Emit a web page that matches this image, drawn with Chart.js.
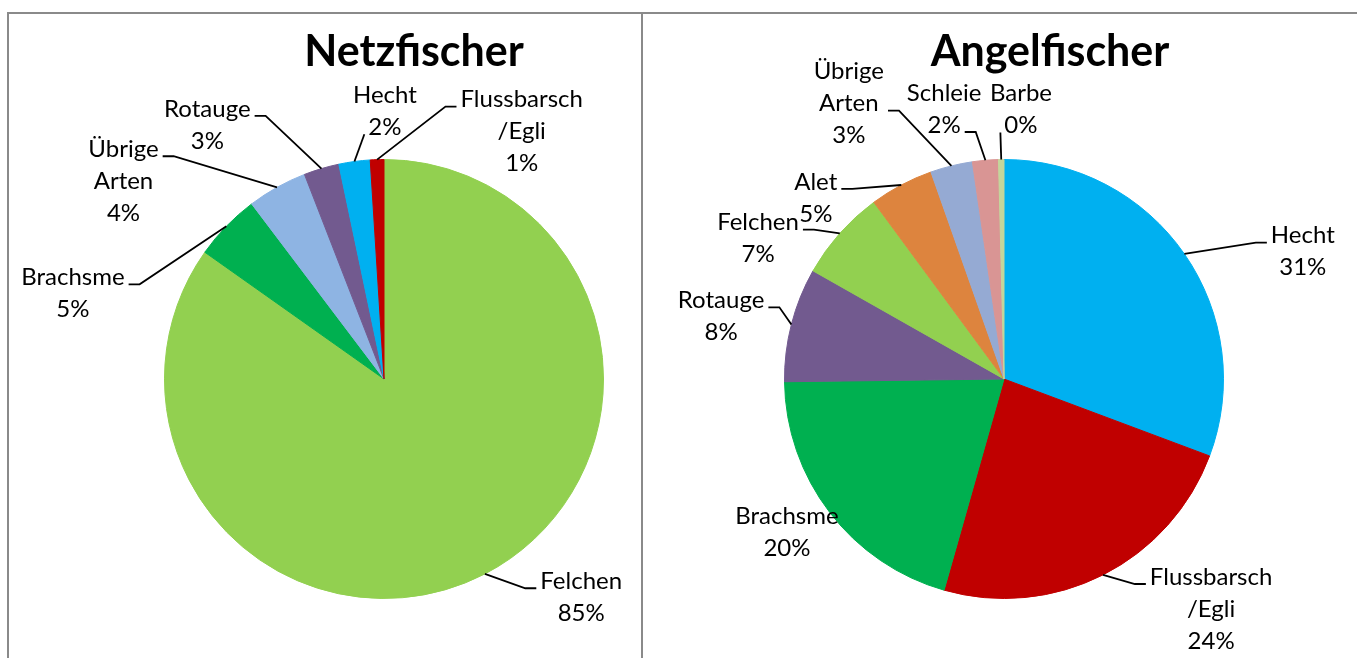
<!DOCTYPE html>
<html>
<head>
<meta charset="utf-8">
<script src="https://cdn.jsdelivr.net/npm/chart.js@4"></script>
<style>
body { margin: 0; background: #fff; overflow: hidden; }
.box { position: absolute; top: 12px; height: 700px; border: 2px solid #8a8a8a; }
#boxNetz { left: 7px; width: 632px; }
#boxAngel { left: 641px; width: 760px; }
canvas { position: absolute; left: 0; top: 0; }
</style>
</head>
<body>
<div class="box" id="boxNetz"><canvas id="netz" width="632" height="644"></canvas></div>
<div class="box" id="boxAngel"><canvas id="angel" width="714" height="644"></canvas></div>
<script>
// Netzfischer (share of catch, %)
const netzCategories = ['Felchen', 'Brachsme', ['Übrige', 'Arten'], 'Rotauge', 'Hecht', ['Flussbarsch', '/Egli']];
const netzValues = [84.8, 4.9, 4.4, 2.6, 2.3, 1.0];

// Angelfischer (share of catch, %)
const angelCategories = ['Hecht', ['Flussbarsch', '/Egli'], 'Brachsme', 'Rotauge', 'Felchen', 'Alet', ['Übrige', 'Arten'], 'Schleie', 'Barbe'];
const angelValues = [30.7, 23.7, 20.4, 8.4, 6.7, 4.7, 3.1, 1.9, 0.4];

// slice colours
const netzColors = ['#92D050', '#00B050', '#8EB4E3', '#725A8F', '#00B0F0', '#C00000'];
const angelColors = ['#00B0F0', '#C00000', '#00B050', '#725A8F', '#92D050', '#DD843E', '#95AAD3', '#D99594', '#C3D69B'];

// label placement: [angle in degrees clockwise from 12 o'clock, distance in pie radii, (leader row)]
const netzLabelPlacement = [[137.9, 1.34], [285.4, 1.47], [307.2, 1.49], [325.2, 1.41], [0.2, 1.22], [29.1, 1.29]];
const angelLabelPlacement = [[66.9, 1.48], [138, 1.41], [234.8, 1.21], [282.5, 1.32], [299.7, 1.29], [313.9, 1.19], [330.6, 1.44, 1], [347.5, 1.26], [3.6, 1.23]];

// draws title, data labels and leader lines the way Excel places them
const excelLabels = {
    id: 'excelLabels',
    afterDatasetsDraw(chart, args, opts) {
        const ctx = chart.ctx;
        const meta = chart.getDatasetMeta(0);
        const values = chart.data.datasets[0].data;
        const total = values.reduce((a, b) => a + b, 0);
        ctx.save();
        ctx.fillStyle = '#000';
        ctx.textAlign = 'center';
        ctx.textBaseline = 'alphabetic';
        ctx.font = 'bold 43px Lato';
        ctx.fillText(opts.title, opts.titleX, opts.titleY);

        ctx.font = '24px Lato';
        ctx.textBaseline = 'middle';
        ctx.strokeStyle = '#000';
        ctx.lineWidth = 1.8;
        const lh = 32;
        meta.data.forEach((arc, i) => {
            const p = arc.getProps(['x', 'y', 'outerRadius', 'startAngle', 'endAngle'], true);
            const mid = (p.startAngle + p.endAngle) / 2;
            const ax = p.x + p.outerRadius * Math.cos(mid);
            const ay = p.y + p.outerRadius * Math.sin(mid);
            const [deg, k, rowHint] = opts.placement[i];
            const t = deg * Math.PI / 180;
            const lx = p.x + k * p.outerRadius * Math.sin(t);
            const ly = p.y - k * p.outerRadius * Math.cos(t);
            const name = chart.data.labels[i];
            const lines = (Array.isArray(name) ? name : [name]).concat(Math.round(values[i] / total * 100) + '%');
            const y0 = ly - (lines.length - 1) * lh / 2;
            const widths = lines.map(s => ctx.measureText(s).width);
            const maxW = Math.max(...widths);
            lines.forEach((s, j) => ctx.fillText(s, lx, y0 + j * lh));

            const left = lx - maxW / 2, right = lx + maxW / 2;
            const top = y0 - lh / 2, bottom = y0 + (lines.length - 1) * lh + lh / 2;
            if (ax > left - 6 && ax < right + 6 && ay > top - 6 && ay < bottom + 6) return;
            let row = 0;
            if (ay > bottom && ax > left - 20 && ax < right + 20) row = lines.length - 1;
            if (rowHint !== undefined) row = rowHint;
            const side = ax < lx ? -1 : 1;
            const px = lx + side * ((rowHint !== undefined ? maxW : widths[row]) / 2 + 4);
            const py = y0 + row * lh + 7;
            const qx = Math.abs(ax - px) > 15 ? px + side * 11 : px;
            ctx.beginPath();
            ctx.moveTo(px, py);
            ctx.lineTo(qx, py);
            ctx.lineTo(ax, ay);
            ctx.stroke();
        });
        ctx.restore();
    }
};

function drawPie(canvasId, categories, values, colors, title, titleX, placement, padding) {
    const ctx = document.getElementById(canvasId).getContext('2d');
    return new Chart(ctx, {
        type: 'pie',
        data: {
            labels: categories,
            datasets: [{
                data: values,
                backgroundColor: colors,
                borderColor: colors,
                borderWidth: 1
            }]
        },
        options: {
            responsive: false,
            animation: false,
            layout: { padding: padding },
            plugins: {
                legend: { display: false },
                tooltip: { enabled: false },
                excelLabels: { title: title, titleX: titleX, titleY: 52, placement: placement }
            }
        },
        plugins: [excelLabels]
    });
}

drawPie('netz', netzCategories, netzValues, netzColors, 'Netzfischer', 405, netzLabelPlacement,
    { left: 155, right: 37, top: 145, bottom: 59 });
drawPie('angel', angelCategories, angelValues, angelColors, 'Angelfischer', 407, angelLabelPlacement,
    { left: 141, right: 133, top: 145, bottom: 59 });
</script>
</body>
</html>
